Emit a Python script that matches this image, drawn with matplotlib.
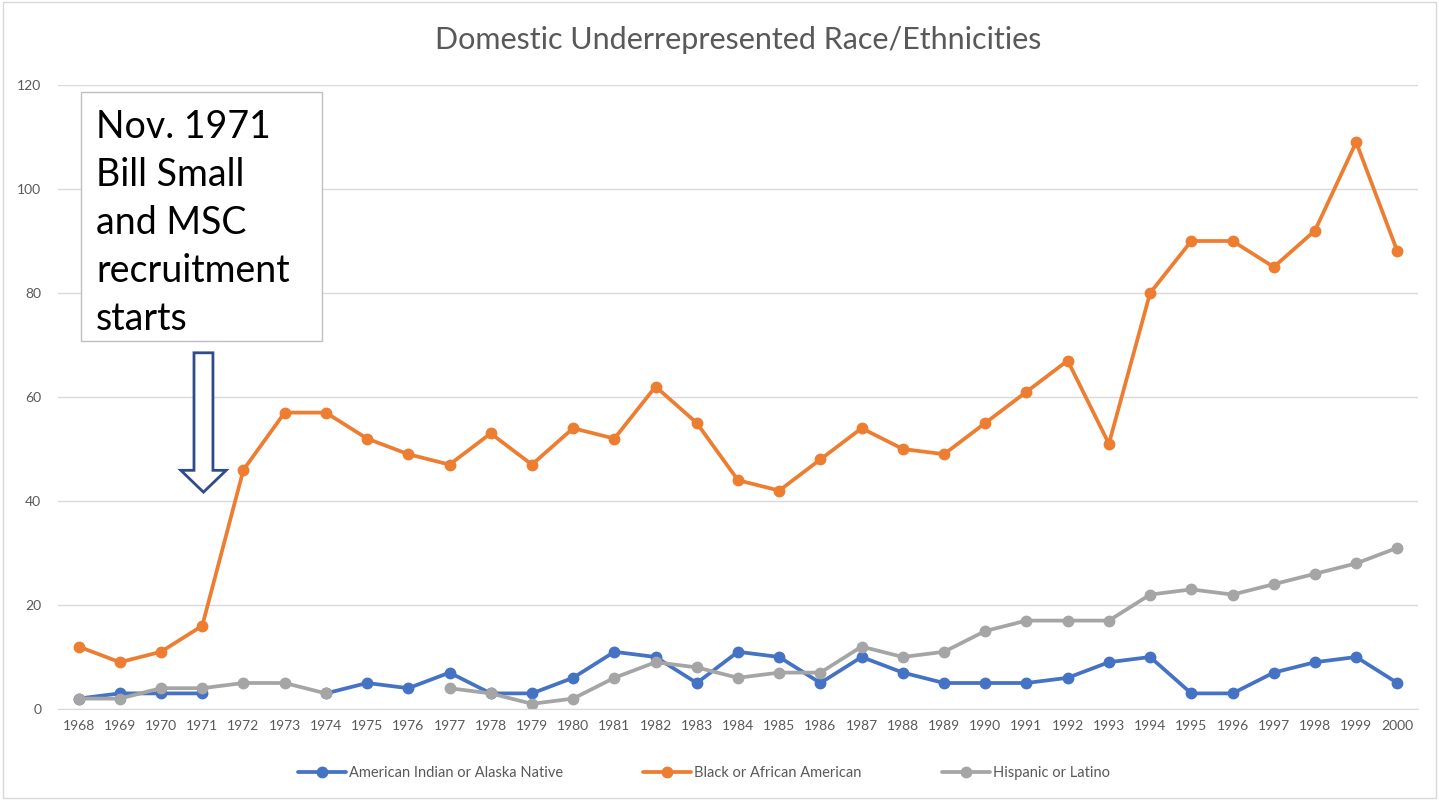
import numpy as np
import matplotlib.pyplot as plt
from matplotlib.patches import FancyArrow, Rectangle

plt.rcParams['font.family'] = ['Lato', 'DejaVu Sans']

years = [str(y) for y in range(1968, 2001)]

# None = no value reported that year
american_indian = [2, 3, 3, 3, None, None, 3, 5, 4, 7, 3, 3, 6, 11, 10, 5, 11, 10,
                   5, 10, 7, 5, 5, 5, 6, 9, 10, 3, 3, 7, 9, 10, 5]
black = [12, 9, 11, 16, 46, 57, 57, 52, 49, 47, 53, 47, 54, 52, 62, 55, 44, 42,
         48, 54, 50, 49, 55, 61, 67, 51, 80, 90, 90, 85, 92, 109, 88]
hispanic = [2, 2, 4, 4, 5, 5, 3, None, None, 4, 3, 1, 2, 6, 9, 8, 6, 7,
            7, 12, 10, 11, 15, 17, 17, 17, 22, 23, 22, 24, 26, 28, 31]

series = [
    ("American Indian or Alaska Native", american_indian, "#4472C4"),
    ("Black or African American", black, "#ED7D31"),
    ("Hispanic or Latino", hispanic, "#A5A5A5"),
]

fig = plt.figure(figsize=(14.39, 8.0), dpi=100)
ax = fig.add_axes([0.0403, 0.11375, 0.9451, 0.78])

x = np.arange(len(years))
for name, vals, col in series:
    v = np.array([np.nan if a is None else a for a in vals], dtype=float)
    ax.plot(x, v, color=col, lw=2.7, marker='o', ms=7.5, label=name,
            solid_capstyle='round', solid_joinstyle='round')

ax.set_xlim(-0.5, len(years) - 0.5)
ax.set_ylim(0, 120)
ax.set_yticks(range(0, 121, 20))
ax.set_xticks(x)
ax.set_xticklabels(years)
ax.grid(axis='y', color='#d9d9d9', lw=1)
ax.set_axisbelow(True)
for s in ['top', 'right', 'left']:
    ax.spines[s].set_visible(False)
ax.spines['bottom'].set_color('#d9d9d9')
ax.tick_params(length=0, colors='#595959', labelsize=10)
ax.tick_params(axis='y', pad=12)
ax.tick_params(axis='x', pad=8)

ax.set_title("Domestic Underrepresented Race/Ethnicities", color='#595959',
             fontsize=22, pad=26)

# annotation box
ax.add_patch(Rectangle((0.0169, 0.5897), 0.1772, 0.3991, transform=ax.transAxes,
                       fc='white', ec='#bfbfbf', lw=1, zorder=4))
ax.text(0.0279, 0.962, "Nov. 1971\nBill Small\nand MSC\nrecruitment\nstarts",
        transform=ax.transAxes, ha='left', va='top', fontsize=27, color='black',
        linespacing=1.42, zorder=5)

# hollow down arrow
arr = FancyArrow(3.03, 68.5, 0, -26.8, width=0.46, head_width=1.1,
                 head_length=4.2, length_includes_head=True,
                 fc='white', ec='#2F4B8A', lw=2)
ax.add_patch(arr)

ax.legend(loc='upper center', bbox_to_anchor=(0.475, -0.07), ncol=3,
          frameon=False, fontsize=10.5, labelcolor='#595959',
          columnspacing=5.5, handlelength=3.3, handletextpad=0.2)

fig.patches.append(Rectangle((0.002, 0.002), 0.996, 0.996, transform=fig.transFigure,
                             fill=False, ec='#d9d9d9', lw=1))

fig.savefig('out.png', dpi=100)
